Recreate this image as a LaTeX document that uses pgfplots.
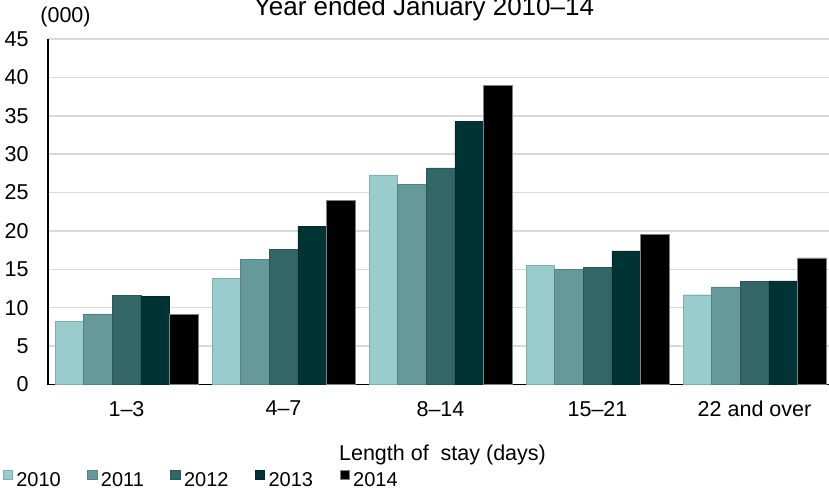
\documentclass[border=0pt]{standalone}
\usepackage{fontspec}
\setmainfont{Liberation Sans}
\usepackage{pgfplots}
\pgfplotsset{compat=1.18}
\definecolor{c10}{HTML}{99CCCC}
\definecolor{c11}{HTML}{669999}
\definecolor{c12}{HTML}{336666}
\definecolor{c13}{HTML}{003333}
\definecolor{c14}{HTML}{000000}
\definecolor{gridc}{HTML}{D9D9D9}
\begin{document}
\fontsize{21.5}{25}\selectfont
\begin{tikzpicture}[x=1pt,y=1pt]
\useasboundingbox (0,0) rectangle (829,490);
\begin{axis}[
  at={(48pt,105.5pt)}, anchor=south west,
  scale only axis, width=785pt, height=345.5pt,
  ybar=0pt, bar width=0.182,
  xmin=-0.5, xmax=4.5, ymin=0, ymax=45,
  xtick={0,1,2,3,4},
  xticklabels={1--3,4--7,8--14,15--21,22 and over},
  ytick={0,5,...,45},
  ymajorgrids, grid style={gridc, line width=1.5pt},
  axis x line*=bottom, axis y line*=left,
  axis line style={black, line width=1.2pt, -},
  tick style={draw=none},
  tick label style={font=\fontsize{21.5}{25}\selectfont},
  /pgf/number format/assume math mode=true,
  yticklabel style={xshift=-12pt},
  xticklabel style={yshift=-5pt},
  legend style={at={(-0.0577,-0.2958)}, anchor=south west, draw=none, fill=none,
    legend columns=5, font=\fontsize{20}{24}\selectfont,
    /tikz/every even column/.append style={column sep=26.5pt},
    /tikz/every odd column/.append style={column sep=4pt},
    inner sep=0pt, outer sep=0pt,
    nodes={inner sep=0pt, outer sep=0pt, text depth=0pt}},
  legend image code/.code={\fill[#1] (0pt,0.7pt) rectangle (9.3pt,10pt);},
]
\addplot[fill=c10, draw=c10!85!black, line width=0.3pt] coordinates {(0,8.2) (1,13.8) (2,27.3) (3,15.5) (4,11.7)};
\addplot[fill=c11, draw=c11!85!black, line width=0.3pt] coordinates {(0,9.2) (1,16.3) (2,26.1) (3,15.0) (4,12.7)};
\addplot[fill=c12, draw=c12!85!black, line width=0.3pt] coordinates {(0,11.6) (1,17.6) (2,28.2) (3,15.3) (4,13.4)};
\addplot[fill=c13, draw=c13!85!black, line width=0.3pt] coordinates {(0,11.5) (1,20.6) (2,34.3) (3,17.4) (4,13.5)};
\addplot[fill=c14, draw=gray, line width=0.3pt] coordinates {(0,9.1) (1,24.0) (2,39.0) (3,19.6) (4,16.5)};
\legend{2010,2011,2012,2013,2014}
\end{axis}
\node[anchor=base] at (442.5,29.3) {Length of\ \ stay (days)};
\node[anchor=base] at (65.5,467) {(000)};
\node[anchor=base] at (424,474) {\fontsize{26}{30}\selectfont Year ended January 2010--14};
\end{tikzpicture}
\end{document}
